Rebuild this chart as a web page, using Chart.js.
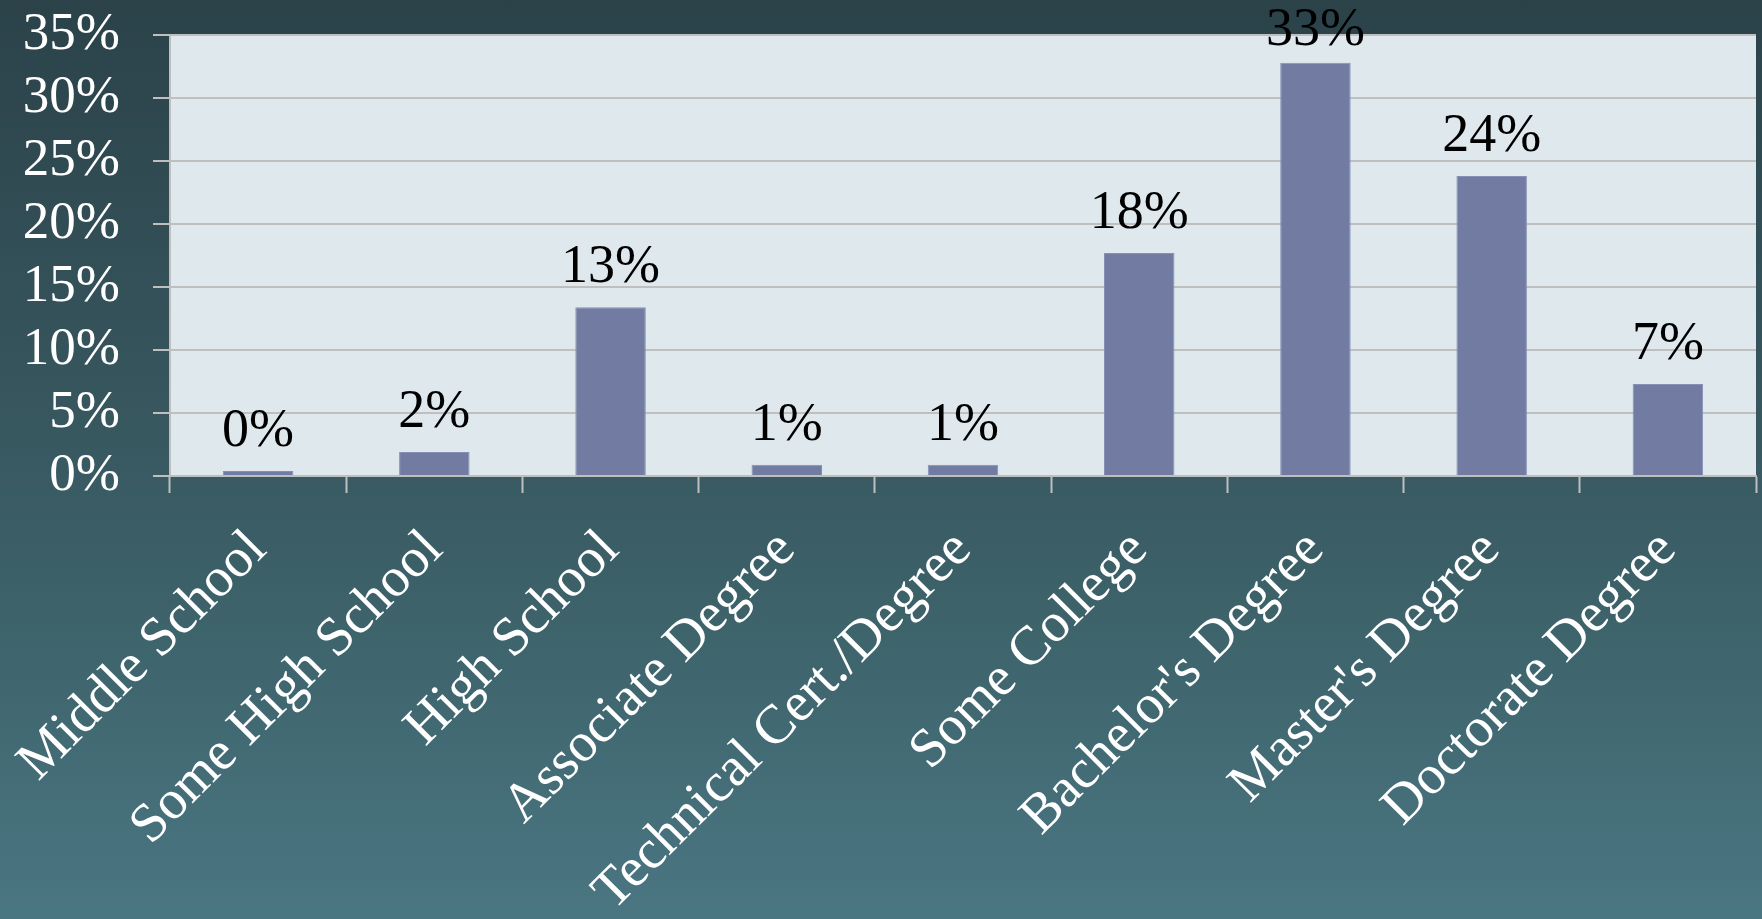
<!DOCTYPE html>
<html>
<head>
<meta charset="utf-8">
<script src="https://cdn.jsdelivr.net/npm/chart.js@4.4.1/dist/chart.umd.min.js"></script>
<style>
  html, body { margin: 0; padding: 0; }
  body {
    width: 1762px; height: 919px; overflow: hidden;
    background: linear-gradient(to bottom, #2b4249 0%, #36545c 40%, #3e646c 70%, #4a7682 100%);
  }
  #wrap { position: relative; width: 1762px; height: 919px; }
  canvas { display: block; }
</style>
</head>
<body>
<div id="wrap"><canvas id="chart" width="1762" height="919"></canvas></div>
<script>
// Education level of respondents (share of total, %)
const categories = [
  "Middle School", "Some High School", "High School", "Associate Degree",
  "Technical Cert./Degree", "Some College", "Bachelor's Degree",
  "Master's Degree", "Doctorate Degree"
];
const shares = [0.4, 1.9, 13.4, 0.9, 0.9, 17.7, 32.8, 23.8, 7.3];
const yTicks = [0, 5, 10, 15, 20, 25, 30, 35];

const FONT = "'Liberation Serif', 'Times New Roman', serif";

// Light panel behind the plot area
const plotBackground = {
  id: 'plotBackground',
  beforeDraw(chart) {
    const { ctx, chartArea: a } = chart;
    ctx.save();
    ctx.fillStyle = '#dfe9ed';
    ctx.fillRect(a.left, a.top, a.right - a.left, a.bottom - a.top);
    ctx.restore();
  }
};

// Percentage labels above each bar (kept inside the canvas at the top)
const barValueLabels = {
  id: 'barValueLabels',
  afterDatasetsDraw(chart) {
    const { ctx } = chart;
    const meta = chart.getDatasetMeta(0);
    ctx.save();
    ctx.font = '54px ' + FONT;
    ctx.fillStyle = '#000000';
    ctx.textAlign = 'center';
    ctx.textBaseline = 'alphabetic';
    meta.data.forEach((bar, i) => {
      const v = chart.data.datasets[0].data[i];
      const y = Math.max(bar.y - 25, 45);
      ctx.fillText(Math.round(v) + '%', bar.x, y);
    });
    ctx.restore();
  }
};

new Chart(document.getElementById('chart'), {
  type: 'bar',
  data: {
    labels: categories,
    datasets: [{
      data: shares,
      backgroundColor: '#727ba1',
      borderColor: '#8790b4',
      borderWidth: 1,
      barPercentage: 0.8,
      categoryPercentage: 0.5
    }]
  },
  options: {
    responsive: false,
    devicePixelRatio: 1,
    animation: false,
    layout: { padding: { top: 35, right: 6, left: 0, bottom: 0 } },
    plugins: {
      legend: { display: false },
      tooltip: { enabled: false }
    },
    scales: {
      x: {
        offset: true,
        grid: {
          offset: true,
          drawOnChartArea: false,
          drawTicks: true,
          tickLength: 17,
          tickColor: '#bfbfbf',
          tickWidth: 2
        },
        border: { color: '#bfbfbf', width: 2 },
        ticks: {
          autoSkip: false,
          maxRotation: 45,
          minRotation: 45,
          padding: 25,
          color: '#ffffff',
          font: { family: FONT, size: 55 }
        },
        afterFit(scale) {
          scale.height = 443;
          scale.paddingLeft = 0;
          scale.paddingRight = 0;
        }
      },
      y: {
        min: 0,
        max: 35,
        afterBuildTicks(scale) { scale.ticks = yTicks.map(v => ({ value: v })); },
        grid: {
          color: '#bfbfbf',
          lineWidth: 2,
          drawTicks: true,
          tickLength: 17,
          tickColor: '#bfbfbf',
          tickWidth: 2
        },
        border: { color: '#bfbfbf', width: 2 },
        ticks: {
          autoSkip: false,
          padding: 33,
          color: '#ffffff',
          font: { family: FONT, size: 53 },
          callback: v => v + '%'
        },
        afterFit(scale) {
          scale.width = 170;
          scale.paddingTop = 0;
          scale.paddingBottom = 0;
        }
      }
    }
  },
  plugins: [plotBackground, barValueLabels]
});
</script>
</body>
</html>
